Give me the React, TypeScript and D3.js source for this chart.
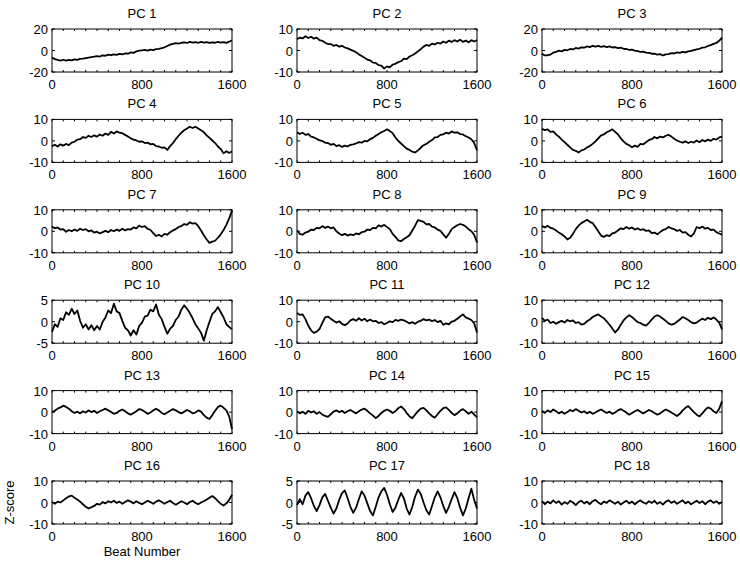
import React from "react";
import * as d3 from "d3";

// Beat sampling step (values below are read every 25 beats, 0..1600)
const beatStep = 25;

const pc1 = [-6.5,-8.0,-8.8,-9.5,-8.6,-9.4,-8.8,-9.2,-8.3,-8.7,-7.8,-7.5,-7.0,-6.6,-6.2,-5.8,-5.2,-5.6,-4.6,-4.9,-3.8,-4.4,-3.6,-4.0,-3.2,-3.6,-2.8,-3.0,-1.8,-2.2,-0.8,-0.2,0.2,0.6,-0.2,0.8,0.3,1.2,1.6,2.2,3.0,4.2,5.5,6.2,6.8,6.4,7.2,7.6,7.0,8.0,7.4,7.8,7.2,8.0,7.4,7.8,7.0,7.6,7.2,8.0,7.3,7.8,7.1,8.2,9.5];
const pc2 = [5.2,6.0,5.6,6.6,5.8,6.4,5.5,6.0,4.8,4.5,3.6,3.0,3.0,2.2,2.6,1.8,2.2,1.4,1.0,0.4,-0.2,-0.8,-1.8,-2.6,-3.4,-4.2,-4.6,-5.6,-5.8,-6.8,-7.0,-8.4,-7.4,-7.8,-6.6,-6.2,-5.4,-5.0,-3.8,-4.0,-2.8,-2.2,-1.4,-0.4,0.6,1.8,2.6,2.2,3.2,2.8,3.6,3.2,4.2,3.6,4.6,4.0,4.8,4.2,5.0,4.0,4.6,3.8,4.8,4.2,4.8];
const pc3 = [-3.0,-4.6,-4.4,-3.8,-2.0,-1.2,-0.2,-0.8,0.6,0.2,1.4,1.0,2.4,1.8,3.0,2.6,3.8,3.2,4.4,3.6,4.2,3.4,4.0,3.2,3.8,2.8,3.2,2.2,2.6,1.6,1.4,0.6,0.8,-0.2,-0.6,-1.2,-1.0,-2.0,-2.2,-3.0,-3.0,-3.8,-3.4,-4.6,-3.6,-3.4,-2.4,-2.8,-1.8,-2.2,-1.2,-1.8,-0.8,-0.4,0.4,1.0,1.6,2.6,3.0,4.2,5.0,6.2,7.0,9.0,12.0];
const pc4 = [-2.4,-1.8,-2.6,-1.6,-2.2,-1.4,-2.0,-0.8,-0.4,0.6,0.8,1.8,1.4,2.4,1.8,2.6,2.0,3.0,2.4,3.4,2.8,4.2,3.4,4.4,3.8,3.6,2.8,2.0,1.2,0.6,0.2,-0.4,-0.2,-1.0,-0.8,-1.6,-1.4,-2.4,-2.6,-3.2,-3.0,-4.2,-2.4,-1.0,0.8,2.4,3.8,5.0,5.8,6.6,6.0,6.6,5.8,5.0,4.0,2.6,1.4,0.2,-1.0,-2.6,-3.8,-5.8,-4.8,-5.6,-4.8];
const pc5 = [4.0,3.2,3.8,2.8,3.2,2.0,1.6,1.0,0.2,0.0,-0.8,-1.0,-1.8,-1.4,-2.4,-2.0,-2.8,-2.2,-2.6,-1.8,-1.6,-1.2,-0.6,-0.8,0.0,-0.2,0.8,1.4,2.4,3.2,4.0,4.6,5.4,4.6,3.6,1.6,0.0,-1.2,-2.4,-3.6,-4.2,-5.0,-5.4,-4.4,-3.2,-2.0,-1.4,-0.4,0.4,1.6,1.8,2.8,3.0,3.8,3.4,4.4,3.8,4.0,3.2,3.0,2.2,1.6,0.8,-1.0,-4.4];
const pc6 = [5.6,5.0,5.4,4.2,4.4,3.0,2.0,0.6,-0.6,-1.8,-3.0,-4.2,-4.6,-5.4,-4.4,-4.0,-3.0,-2.4,-1.4,-0.2,1.2,2.6,3.0,4.0,4.6,5.4,4.2,3.0,1.2,-0.2,-1.4,-2.0,-3.0,-2.2,-2.8,-1.4,-1.6,-0.6,0.4,0.8,1.8,1.2,2.0,1.6,2.4,2.8,2.0,1.0,0.2,-0.4,-0.8,-0.2,-1.0,-0.4,-0.8,0.2,-0.6,0.4,-0.2,0.6,0.0,1.0,0.6,1.6,2.0];
const pc7 = [2.2,1.4,1.8,0.8,1.0,-0.2,0.6,0.0,0.8,0.2,1.2,0.6,1.0,0.0,0.4,-0.6,-0.2,-1.0,-0.4,0.2,-0.4,0.6,0.0,0.8,0.2,1.2,0.4,1.0,0.8,1.8,1.4,2.6,2.0,2.4,1.2,0.6,-0.8,-2.2,-1.6,-2.4,-1.2,-1.6,-0.4,0.4,1.0,2.0,2.4,3.4,3.0,4.2,3.6,3.8,2.4,0.4,-1.8,-3.8,-5.4,-4.8,-4.4,-3.0,-1.4,0.6,3.0,6.0,9.6];
const pc8 = [0.4,-1.2,-1.6,-0.6,-0.2,0.8,0.6,1.6,1.4,2.4,1.6,2.2,1.4,1.8,0.0,-1.0,-1.8,-1.2,-2.0,-1.4,-1.8,-1.0,-1.4,-0.4,-0.2,0.8,0.6,1.6,1.4,2.8,2.2,3.0,2.0,1.0,-1.2,-2.6,-4.2,-4.6,-3.6,-2.8,-1.8,0.4,2.6,5.2,4.8,4.4,3.2,3.4,2.2,1.8,0.8,0.2,-1.4,-3.0,-1.2,1.0,2.0,2.8,3.4,3.0,2.2,1.0,0.0,-1.6,-5.2];
const pc9 = [2.4,1.8,2.6,1.6,1.2,0.4,-0.6,-1.4,-2.4,-3.8,-3.0,-1.2,1.0,2.6,3.8,4.6,5.4,4.4,3.8,2.0,0.0,-2.0,-2.6,-1.8,-2.2,-1.0,-0.6,0.4,1.4,1.0,2.0,1.2,1.8,0.8,1.4,0.6,1.0,0.2,0.4,-0.8,-0.6,-1.4,-0.4,0.6,1.0,2.0,1.4,1.0,0.2,0.6,-0.6,-0.4,-1.6,-2.4,-1.0,2.0,1.4,2.2,1.2,1.6,0.6,0.8,-0.4,-1.0,-1.6];
const pc10 = [-2.4,-0.6,-1.2,0.8,0.4,2.2,1.6,3.0,1.8,2.6,0.2,-1.4,-0.6,-1.8,-0.8,-2.0,-1.0,-1.8,0.0,1.0,2.6,2.0,4.2,2.4,2.0,0.2,-1.4,-2.0,-3.2,-2.0,-3.0,-1.0,-0.2,1.2,1.4,2.8,2.4,4.0,1.6,0.6,-1.2,-2.8,-1.6,-1.0,0.4,1.2,2.8,3.8,3.0,2.0,0.8,-0.6,-1.6,-2.6,-4.4,-2.0,0.0,1.8,2.4,3.4,2.2,1.0,-0.6,-1.2,-1.8];
const pc11 = [4.0,3.2,3.4,1.2,-1.8,-4.0,-5.2,-4.6,-3.4,-0.6,2.0,2.4,1.4,0.4,-0.4,0.2,-1.0,-1.6,-0.8,0.6,1.2,0.4,1.6,0.6,1.4,0.2,1.0,0.2,0.4,-0.6,-0.2,-1.2,-0.6,0.2,-0.2,0.8,0.4,1.0,0.6,0.0,-0.8,-0.2,-1.0,0.0,0.4,1.2,0.6,1.0,0.2,0.8,-0.2,0.4,-1.4,-0.8,-1.2,0.0,0.4,1.4,2.4,3.4,2.0,1.4,0.8,-0.8,-5.0];
const pc12 = [1.8,0.4,1.0,-0.6,0.0,-1.0,-0.2,0.4,-0.4,0.8,0.2,0.6,-0.6,-0.2,-1.4,-1.0,0.2,1.0,2.2,2.8,3.4,2.4,1.6,0.2,-1.4,-3.2,-5.0,-3.6,-1.4,0.6,2.0,3.0,2.2,1.0,-0.2,-0.6,-1.4,-1.8,-0.6,1.0,2.4,3.0,2.4,1.4,0.4,-0.8,-1.4,-1.0,0.0,1.0,2.2,1.6,0.8,-0.2,-0.8,-0.4,0.6,1.4,0.8,1.8,1.2,2.0,1.0,-0.4,-3.6];
const pc13 = [0.0,0.6,1.6,2.2,3.0,2.4,1.6,0.4,-0.4,0.2,-0.6,0.4,-0.2,0.8,0.0,0.6,-0.4,0.4,1.0,1.6,0.8,0.0,-0.8,-0.4,0.6,1.2,0.4,-0.6,-1.2,-0.4,0.4,1.4,1.0,0.2,-0.8,-0.2,0.8,1.6,0.8,-0.4,-1.0,-0.2,0.6,1.4,0.8,0.0,-0.6,0.2,1.0,0.4,-0.6,-0.2,0.8,0.2,-1.4,-2.6,-3.2,-1.4,0.6,2.4,3.0,2.0,0.8,-2.0,-8.0];
const pc14 = [0.4,-0.6,0.2,-0.8,0.6,-0.2,0.4,-0.8,0.0,-1.2,-1.8,-2.2,-1.0,0.2,0.8,0.0,0.6,-0.4,0.4,1.0,0.2,-0.6,0.4,1.2,1.6,0.6,-0.6,-1.6,-2.8,-1.8,-0.4,0.6,1.2,0.6,-0.4,0.4,1.8,2.6,1.4,-0.4,-2.0,-2.8,-1.2,0.4,1.6,2.0,0.8,-0.6,-1.8,-2.6,-1.0,0.6,1.8,2.2,1.0,-0.4,-1.4,-0.6,0.6,1.4,0.4,-0.8,0.2,-1.2,-2.4];
const pc15 = [0.6,-0.4,0.8,0.0,1.2,0.4,-0.6,0.2,-0.8,0.0,1.0,0.4,1.4,0.6,-0.2,0.4,-0.6,0.2,-0.8,-0.2,0.6,1.2,0.4,-0.4,0.2,-0.8,-0.2,0.8,1.4,0.6,-0.2,-1.2,-0.4,0.4,1.0,0.2,-0.6,0.2,1.0,0.4,-0.4,-1.2,-0.6,0.4,1.2,0.6,-0.2,-1.0,-1.8,-0.8,0.8,2.0,2.8,1.4,0.0,-1.2,-2.0,-0.6,1.0,2.2,1.6,0.4,-0.4,1.6,5.0];
const pc16 = [0.2,-0.6,0.4,0.0,1.0,2.0,2.8,3.2,2.2,1.4,0.4,-0.8,-2.0,-2.8,-2.2,-1.6,-0.6,-1.0,0.2,-0.4,0.6,0.0,0.8,-0.2,0.4,-0.6,0.2,1.0,0.4,-0.4,0.6,-0.2,-0.8,0.0,0.8,0.2,-0.6,0.4,1.0,0.2,-0.6,0.2,0.8,-0.2,-1.0,-0.2,0.6,0.0,-0.8,0.2,0.8,-0.2,-0.8,0.0,0.6,1.4,2.2,3.0,2.0,0.6,-0.6,-1.4,-0.4,1.2,3.6];
const pc17 = [-0.6,0.8,-0.4,1.6,2.4,1.0,-0.8,-2.0,-0.6,1.2,2.0,0.4,-1.2,-2.6,-1.4,0.6,2.2,2.8,1.0,-1.0,-2.4,-1.2,0.8,2.6,1.6,-0.2,-2.0,-3.0,-1.0,1.2,2.6,3.4,1.8,-0.4,-2.2,-1.2,0.6,2.2,1.0,-1.4,-2.8,-1.0,1.4,3.0,2.0,0.0,-1.8,-2.8,-0.8,1.2,2.6,1.2,-0.8,-2.4,-1.0,0.8,2.4,1.0,-1.2,-3.0,-1.4,1.0,3.2,0.6,-1.4];
const pc18 = [0.6,-0.8,0.4,-0.4,1.0,-0.2,0.6,-1.0,0.2,-0.6,0.8,0.0,-1.2,0.2,0.8,-0.4,0.4,-0.8,0.6,1.2,0.0,-0.8,0.4,-0.2,1.0,0.2,-0.6,0.4,-1.0,0.0,0.8,-0.4,0.4,-0.8,0.2,1.0,0.0,-0.6,0.6,-0.2,0.8,-0.6,0.2,-1.0,0.4,1.0,-0.2,0.6,-0.6,0.2,1.0,-0.4,0.4,-0.8,0.0,0.8,-0.2,0.6,-0.8,0.4,1.0,-0.2,0.6,-0.6,0.2];

const series = [pc1, pc2, pc3, pc4, pc5, pc6, pc7, pc8, pc9, pc10, pc11, pc12, pc13, pc14, pc15, pc16, pc17, pc18];
const titles = ["PC 1","PC 2","PC 3","PC 4","PC 5","PC 6","PC 7","PC 8","PC 9","PC 10","PC 11","PC 12","PC 13","PC 14","PC 15","PC 16","PC 17","PC 18"];
const yLimits = [20, 10, 20, 10, 10, 10, 10, 10, 10, 5, 10, 10, 10, 10, 10, 10, 5, 10];
const xTickLabels = [0, 800, 1600];
const xMinorTicks = d3.range(0, 1601, 100);
const xLabel = "Beat Number";
const yLabel = "Z-score";

const W = 740, H = 564;
const colLeft = [52, 297, 542];
const axW = 180;
const rowTop0 = 29, rowStep = 90.4, axH = 43;
const font = "'Liberation Sans', Arial, sans-serif";

function Panel({ idx }: { idx: number }) {
  const col = idx % 3, row = Math.floor(idx / 3);
  const x0 = colLeft[col];
  const y0 = rowTop0 + row * rowStep;
  const lim = yLimits[idx];
  const xs = d3.scaleLinear().domain([0, 1600]).range([x0, x0 + axW]);
  const ys = d3.scaleLinear().domain([-lim, lim]).range([y0 + axH, y0]);
  const data = series[idx];
  const line = d3.line<number>().x((_, i) => xs(i * beatStep)).y(d => ys(Math.max(-lim, Math.min(lim, d))));
  const yTicks = [-lim, 0, lim];
  return (
    <g>
      <text x={x0 + axW / 2} y={y0 - 11} textAnchor="middle" fontSize={13} fontFamily={font}>{titles[idx]}</text>
      <rect x={x0} y={y0} width={axW} height={axH} fill="#fff" stroke="none" />
      <path d={line(data) || ""} fill="none" stroke="#000" strokeWidth={1.8} strokeLinejoin="round" />
      <rect x={x0} y={y0} width={axW} height={axH} fill="none" stroke="#000" strokeWidth={1} />
      {xMinorTicks.map(t => (
        <g key={"xt" + t}>
          <line x1={xs(t)} x2={xs(t)} y1={y0 + axH} y2={y0 + axH - 2} stroke="#000" strokeWidth={1} />
          <line x1={xs(t)} x2={xs(t)} y1={y0} y2={y0 + 2} stroke="#000" strokeWidth={1} />
        </g>
      ))}
      {xTickLabels.map(t => (
        <text key={"xl" + t} x={xs(t)} y={y0 + axH + 17} textAnchor="middle" fontSize={13} fontFamily={font}>{t}</text>
      ))}
      {yTicks.map(t => (
        <g key={"yt" + t}>
          <line x1={x0} x2={x0 + 3} y1={ys(t)} y2={ys(t)} stroke="#000" strokeWidth={1} />
          <line x1={x0 + axW} x2={x0 + axW - 3} y1={ys(t)} y2={ys(t)} stroke="#000" strokeWidth={1} />
          <text x={x0 - 4} y={ys(t) + 5} textAnchor="end" fontSize={13} fontFamily={font}>{t}</text>
        </g>
      ))}
    </g>
  );
}

export default function App() {
  const lastRowTop = rowTop0 + 5 * rowStep;
  return (
    <svg width={W} height={H} style={{ position: "absolute", left: 0, top: 0, background: "#fff" }}>
      <rect x={0} y={0} width={W} height={H} fill="#fff" />
      {series.map((_, i) => <Panel key={i} idx={i} />)}
      <text transform={`translate(14, ${lastRowTop + axH / 2}) rotate(-90)`} textAnchor="middle" fontSize={13} fontFamily={font}>{yLabel}</text>
      <text x={colLeft[0] + axW / 2} y={lastRowTop + axH + 32} textAnchor="middle" fontSize={13} fontFamily={font}>{xLabel}</text>
    </svg>
  );
}
